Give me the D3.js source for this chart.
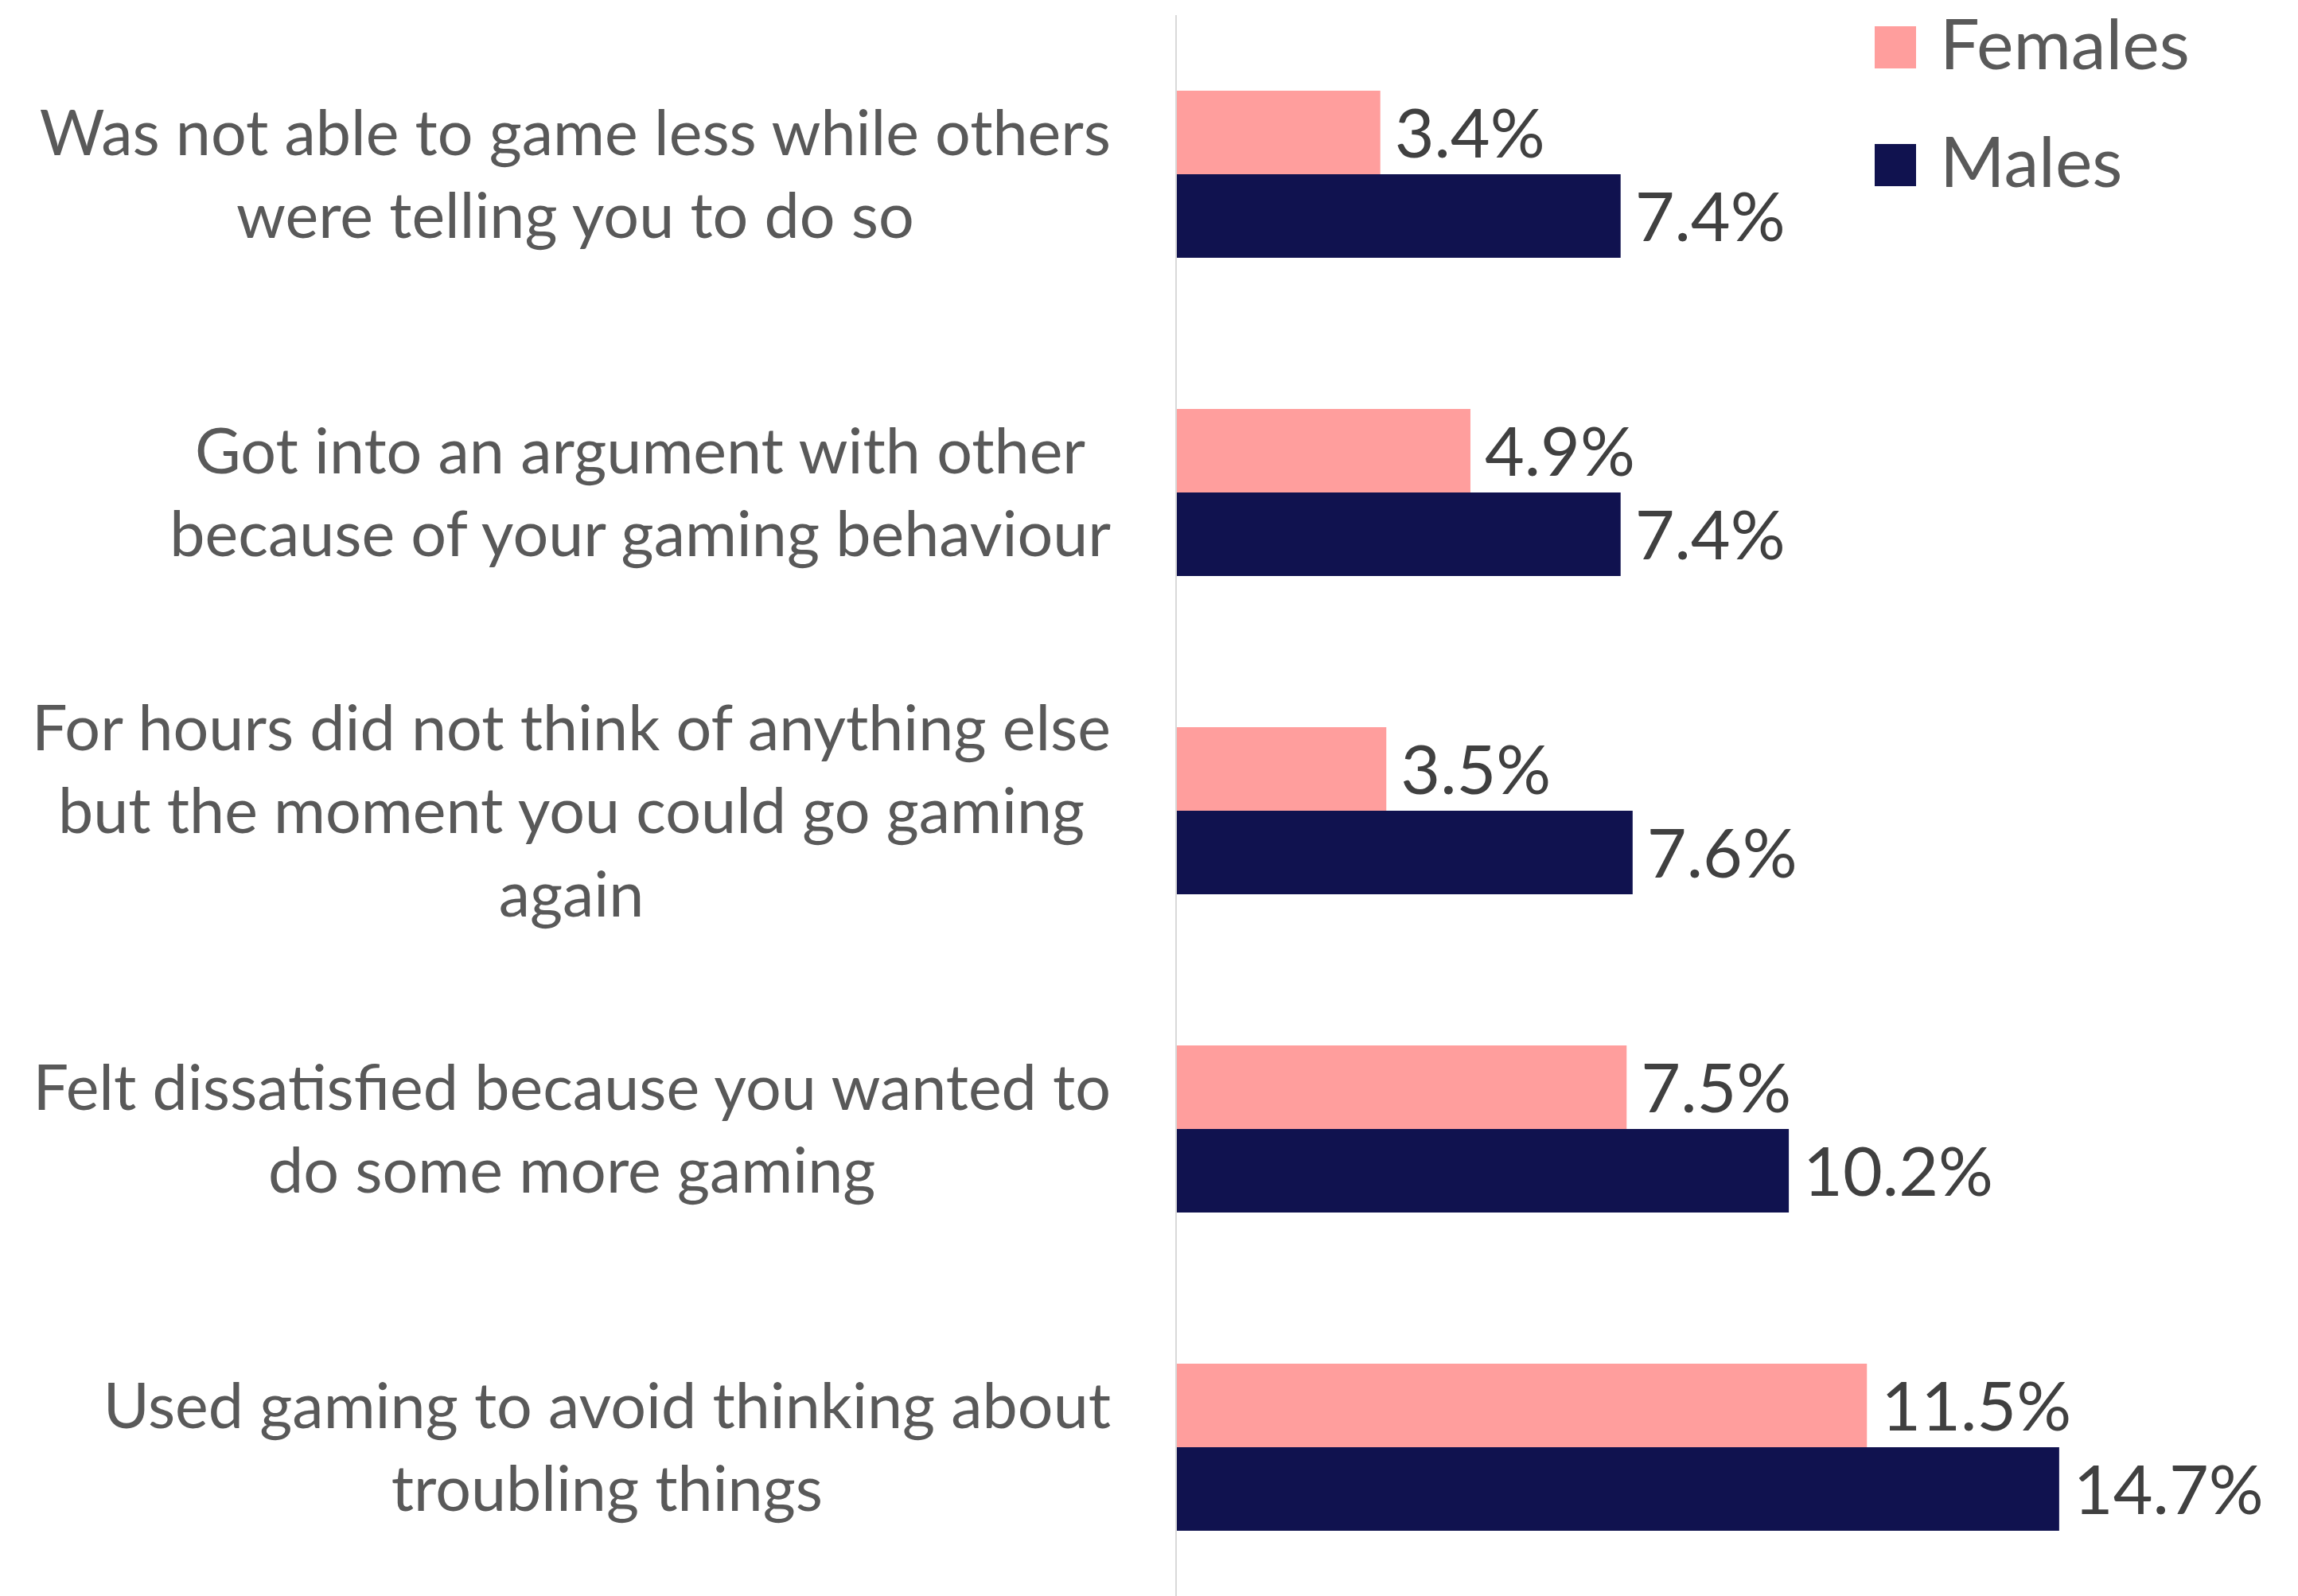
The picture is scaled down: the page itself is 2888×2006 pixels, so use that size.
<!DOCTYPE html>
<html>
<head>
<meta charset="utf-8">
<script src="https://cdn.jsdelivr.net/npm/d3@7"></script>
<style>
  html, body { margin: 0; padding: 0; background: #fff; }
  svg { display: block; font-family: Lato, "Open Sans", sans-serif; }
</style>
</head>
<body>
<script>
// categories, each one already split into its printed lines
const categories = [
  ["Was not able to game less while others", "were telling you to do so"],
  ["Got into an argument with other", "because of your gaming behaviour"],
  ["For hours did not think of anything else", "but the moment you could go gaming", "again"],
  ["Felt dissatisfied because you wanted to", "do some more gaming"],
  ["Used gaming to avoid thinking about", "troubling things"]
];
const seriesNames = ["Females", "Males"];
const females = [3.4, 4.9, 3.5, 7.5, 11.5];
const males = [7.4, 7.4, 7.6, 10.2, 14.7];
const colors = ["#FF9E9D", "#10124F"];

const W = 2888, H = 2006;
// plot box
const pd = { top: 19, left: 1478 };
const plotBottom = 2019;

const rows = categories.map((c, i) => ({ key: i, lines: c, vals: [females[i], males[i]] }));

const svg = d3.select("body").append("svg")
  .attr("width", W)
  .attr("height", H);

const x = d3.scaleLinear().domain([0, 16]).range([pd.left, pd.left + 75.5 * 16]);
const y = d3.scaleBand()
  .domain(rows.map(d => d.key))
  .range([pd.top, plotBottom])
  .paddingInner(0.475)
  .paddingOuter(0.2375);
const ys = d3.scaleBand().domain(seriesNames).range([0, y.bandwidth()]);

/*---- bars ----*/
const grp = svg.selectAll("g.cat")
  .data(rows)
  .join("g")
  .attr("class", "cat")
  .attr("transform", d => "translate(0," + y(d.key) + ")");

grp.selectAll("rect")
  .data(d => d.vals.map((v, j) => ({ v, s: seriesNames[j], j })))
  .join("rect")
  .attr("x", x(0))
  .attr("y", d => ys(d.s))
  .attr("width", d => x(d.v) - x(0))
  .attr("height", ys.bandwidth())
  .attr("fill", d => colors[d.j]);

// value labels
grp.selectAll("text.val")
  .data(d => d.vals.map((v, j) => ({ v, s: seriesNames[j] })))
  .join("text")
  .attr("class", "val")
  .attr("x", d => x(d.v) + 18)
  .attr("y", d => ys(d.s) + ys.bandwidth() / 2 + 31)
  .attr("font-size", 86)
  .attr("fill", "#404040")
  .text(d => d.v.toFixed(1) + "%");

/*---- vertical axis line ----*/
const axis = svg.append("g")
  .attr("transform", "translate(" + pd.left + ",0)")
  .call(d3.axisLeft(y).tickSize(0).tickSizeOuter(0).tickFormat(""));
axis.select(".domain")
  .attr("d", "M0," + pd.top + "V" + H)
  .attr("stroke", "#d9d9d9")
  .attr("stroke-width", 2);

/*---- category labels (block right-aligned, lines centred) ----*/
const lineH = 104.5, capHalf = 28, labelRight = 1396;
const labels = svg.selectAll("g.lab")
  .data(rows)
  .join("g")
  .attr("class", "lab")
  .attr("font-size", 79)
  .attr("fill", "#595959")
  .attr("text-anchor", "middle");

labels.each(function(d) {
  const g = d3.select(this);
  const cy = y(d.key) + y.bandwidth() / 2;
  const n = d.lines.length;
  const ts = g.selectAll("text")
    .data(d.lines)
    .join("text")
    .attr("y", (l, i) => cy + capHalf + (i - (n - 1) / 2) * lineH)
    .text(l => l);
  const maxW = d3.max(ts.nodes(), t => t.getComputedTextLength());
  ts.attr("x", labelRight - maxW / 2);
});

/*---- legend ----*/
const leg = svg.append("g").attr("transform", "translate(2356,33)");
const li = leg.selectAll("g")
  .data(seriesNames)
  .join("g")
  .attr("transform", (d, i) => "translate(0," + i * 148 + ")");
li.append("rect")
  .attr("width", 52)
  .attr("height", 53)
  .attr("fill", (d, i) => colors[i]);
li.append("text")
  .attr("x", 82)
  .attr("y", 54)
  .attr("font-size", 88)
  .attr("fill", "#595959")
  .text(d => d);
</script>
</body>
</html>
